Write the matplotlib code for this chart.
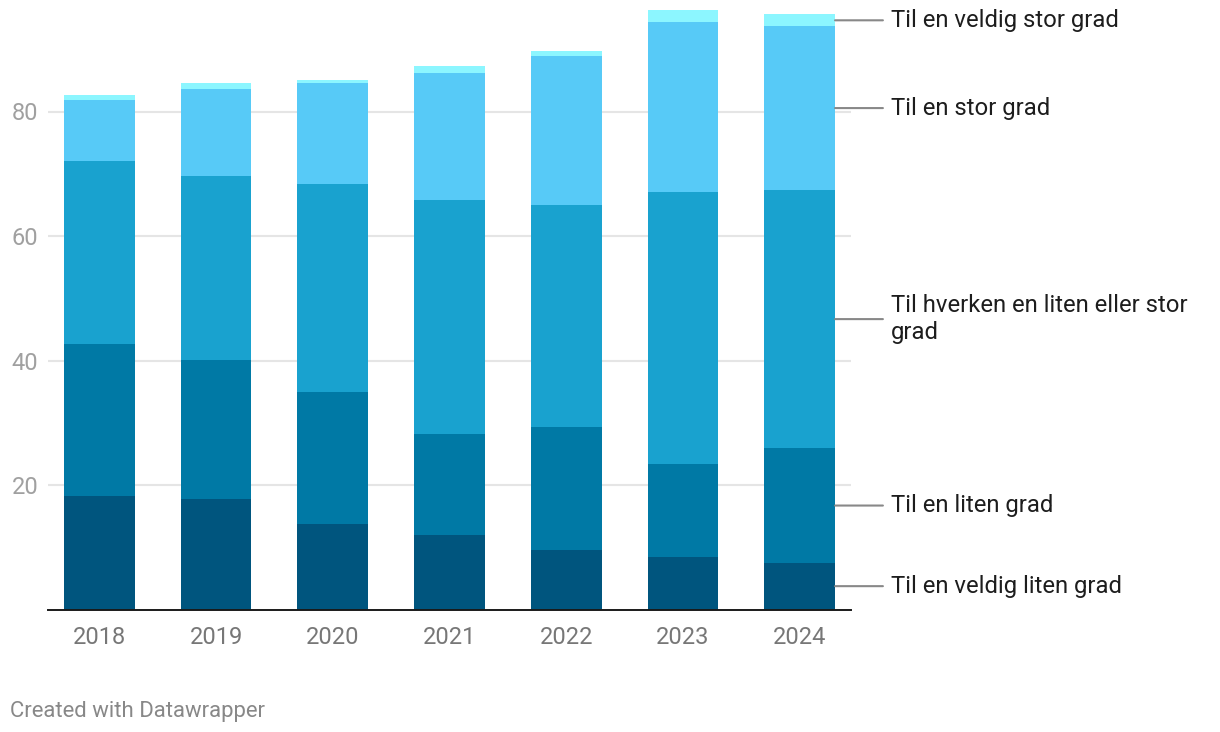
import matplotlib.pyplot as plt
import numpy as np

plt.rcParams['font.family'] = ['Roboto', 'DejaVu Sans']

years = ['2018', '2019', '2020', '2021', '2022', '2023', '2024']

# bottom to top
labels = [
    'Til en veldig liten grad',
    'Til en liten grad',
    'Til hverken en liten eller stor\ngrad',
    'Til en stor grad',
    'Til en veldig stor grad',
]
veldig_liten = [18.2, 17.75, 13.7, 12.0, 9.55, 8.4, 7.5]
liten = [24.45, 22.35, 21.2, 16.2, 19.75, 15.0, 18.4]
hverken = [29.35, 29.5, 33.5, 37.6, 35.7, 43.7, 41.5]
stor = [9.8, 14.0, 16.1, 20.4, 23.9, 27.3, 26.3]
veldig_stor = [0.85, 1.0, 0.6, 1.1, 0.8, 1.9, 1.9]

colors = ['#00557e', '#0079a5', '#19a2cf', '#57caf7', '#8cf6ff']
series = [veldig_liten, liten, hverken, stor, veldig_stor]

fig = plt.figure(figsize=(12.2, 7.32), dpi=100)
ax = fig.add_axes([48 / 1220, 1 - 609.5 / 732, (851 - 48) / 1220, 609.5 / 732])

x = np.arange(len(years))
bottom = np.zeros(len(years))
for vals, col in zip(series, colors):
    ax.bar(x, vals, width=0.607, bottom=bottom, color=col, zorder=2)
    bottom += np.array(vals)

ax.set_xlim(-0.44, len(years) - 1 + 0.44)
ax.set_ylim(0, 609.5 / 6.225)

ax.set_yticks([20, 40, 60, 80])
ax.yaxis.grid(True, color='#e5e5e5', linewidth=1.5, zorder=0)
ax.set_axisbelow(True)
for s in ['top', 'right', 'left']:
    ax.spines[s].set_visible(False)
ax.spines['bottom'].set_color('#1a1a1a')
ax.spines['bottom'].set_linewidth(1.4)
ax.spines['bottom'].set_zorder(3)

ax.set_xticks(x)
ax.set_xticklabels(years)
ax.tick_params(axis='x', length=0, pad=12, labelsize=17, labelcolor='#777777')
ax.tick_params(axis='y', length=0, pad=7, labelsize=17, labelcolor='#a0a0a0')

# direct labels at the middle of the last bar's segments
last = [s[-1] for s in series]
tops = np.cumsum(last)
mids = tops - np.array(last) / 2
xr = len(years) - 1 + 0.607 / 2
for lab, m in zip(labels, mids):
    y = m
    ax.annotate('', xy=(xr, y), xytext=(xr + 0.41, y), xycoords='data',
                arrowprops=dict(arrowstyle='-', color='#888888', lw=1.5,
                                shrinkA=0, shrinkB=0),
                annotation_clip=False)
    ax.text(xr + 0.48, y, lab, ha='left', va='center', fontsize=17.2,
            color='#1d1d1d', linespacing=1.2, clip_on=False)

fig.text(10 / 1220, 1 - 711 / 732, 'Created with Datawrapper', ha='left',
         va='center', fontsize=15.9, color='#888888')

fig.savefig('out.png', dpi=100)
